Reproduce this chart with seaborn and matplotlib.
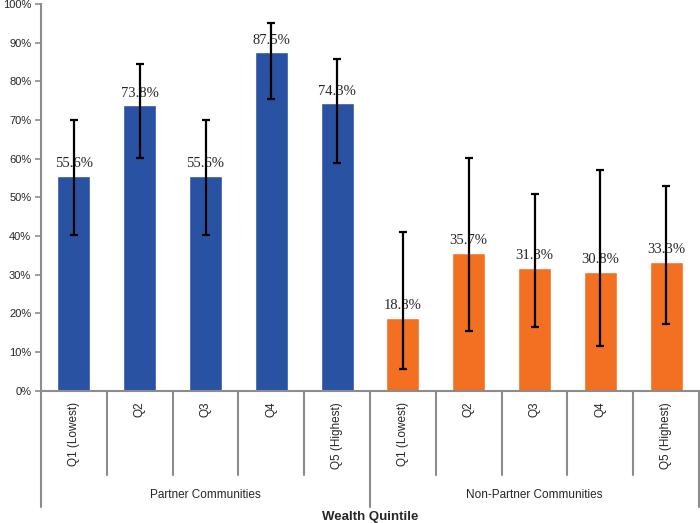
import matplotlib
matplotlib.use("Agg")
import matplotlib.pyplot as plt
import seaborn as sns
import pandas as pd
import numpy as np

# data
groups = ["Partner Communities", "Non-Partner Communities"]
quintiles = ["Q1 (Lowest)", "Q2", "Q3", "Q4", "Q5 (Highest)"]
partner = [55.6, 73.8, 55.6, 87.5, 74.3]
non_partner = [18.8, 35.7, 31.8, 30.8, 33.3]
# confidence interval ends (estimated)
partner_low = [40.3, 60.3, 40.3, 75.4, 59.0]
partner_high = [70.0, 84.4, 70.0, 95.0, 85.8]
non_partner_low = [5.7, 15.5, 16.5, 11.5, 17.3]
non_partner_high = [41.0, 60.1, 50.9, 57.1, 52.9]

blue = "#2A52A3"
orange = "#F36F21"
grey = "#8C8C8C"

df = pd.DataFrame({
    "group": np.repeat(groups, len(quintiles)),
    "quintile": quintiles * 2,
    "value": partner + non_partner,
    "low": partner_low + non_partner_low,
    "high": partner_high + non_partner_high,
})
df["key"] = df["group"] + " | " + df["quintile"]

sns.set_style("white")
plt.rcParams["font.family"] = ["Liberation Sans", "DejaVu Sans"]

fig = plt.figure(figsize=(7, 5.23), dpi=100)
ax = fig.add_axes([41 / 700, 1 - 390.7 / 523, 658 / 700, 386.6 / 523])

sns.barplot(data=df, x="key", y="value", hue="group", palette=[blue, orange],
            width=0.5, dodge=False, errorbar=None, legend=False, saturation=1, ax=ax)

xs = np.arange(len(df))
ax.errorbar(xs, df["value"], yerr=[df["value"] - df["low"], df["high"] - df["value"]],
            fmt="none", ecolor="black", elinewidth=1.6, capsize=3, capthick=1.6, zorder=5)

# value labels
for i, v in enumerate(df["value"]):
    ax.annotate(f"{v:.1f}%", (i, v), xytext=(0, 4), textcoords="offset points",
                ha="center", va="bottom", family="Liberation Serif", fontsize=10.5, zorder=4)

ax.set_xlim(-0.5, len(df) - 0.5)
ax.set_ylim(0, 100)
ax.set_yticks(np.arange(0, 101, 10))
ax.set_yticklabels([f"{t}%" for t in range(0, 101, 10)], fontsize=8)
ax.set_xticks(xs)
ax.set_xticklabels(df["quintile"], rotation=90, fontsize=8.5)
ax.tick_params(axis="x", length=0, pad=8)
ax.tick_params(axis="y", length=4, width=1.2, color=grey, pad=3, left=True)
ax.set_xlabel("")
ax.set_ylabel("")

for s in ["top", "right"]:
    ax.spines[s].set_visible(False)
for s in ["left", "bottom"]:
    ax.spines[s].set_color(grey)
    ax.spines[s].set_linewidth(1.5)

# category dividers below the axis
trans = ax.get_xaxis_transform()
for b in np.arange(-0.5, len(df), 1.0):
    outer = b in (-0.5, 4.5, 9.5)
    y_end = -0.301 if outer else -0.218
    ax.plot([b, b], [0, y_end], color=grey, lw=1.5, transform=trans, clip_on=False)

# group labels
ax.text(2, -0.27, groups[0], transform=trans, ha="center", va="center", fontsize=8.5)
ax.text(7, -0.27, groups[1], transform=trans, ha="center", va="center", fontsize=8.5)
ax.text(4.5, -0.327, "Wealth Quintile", transform=trans, ha="center", va="center",
        fontsize=9.5, fontweight="bold")

fig.savefig("out.png", dpi=100)
